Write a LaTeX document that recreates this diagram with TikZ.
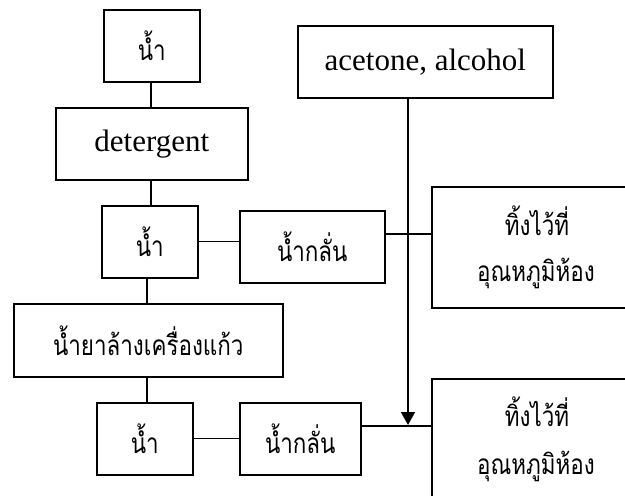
\documentclass[tikz,border=0pt]{standalone}
\usepackage{fontspec}
\setmainfont{Liberation Serif}
\newfontfamily\thaifont[Script=Thai,FakeStretch=0.8]{Loma}
\usetikzlibrary{arrows.meta,calc}
\tikzset{
  box/.style={draw, line width=1.6pt, rectangle, inner sep=0pt, anchor=north west},
  lat/.style={font=\fontsize{31}{37}\selectfont},
  th/.style={font=\thaifont\fontsize{28}{34}\selectfont},
  conn/.style={line width=1.3pt},
  arr/.style={line width=1.8pt, -{Triangle[width=14pt,length=13pt]}}
}
\begin{document}
\begin{tikzpicture}[x=1pt,y=-1pt]
\useasboundingbox (0,0) rectangle (625,496);
\clip (0,0) rectangle (625,496);
% boxes
\node[box, minimum width=96pt, minimum height=72pt, th] (w1) at (103,9) {น้ำ};
\node[box, minimum width=192pt, minimum height=72pt, lat] (det) at (55,107) {detergent};
\node[box, minimum width=96pt, minimum height=72pt, th] (w2) at (101,205) {น้ำ};
\node[box, minimum width=145pt, minimum height=72pt, th] (d1) at (239,210) {น้ำกลั่น};
\node[box, minimum width=255pt, minimum height=72pt, lat] (ac) at (297,25) {acetone, alcohol};
\node[box, minimum width=215pt, minimum height=121pt] (r1) at (431,186) {};
\node[th, anchor=center] (r1a) at (537,221) {ทิ้งไว้ที่};
\node[th, anchor=center] (r1b) at (536,273) {อุณหภูมิห้อง};
\node[box, minimum width=269pt, minimum height=73pt, th] (ws) at (13,303) {น้ำยาล้างเครื่องแก้ว};
\node[box, minimum width=96pt, minimum height=72pt, th] (w3) at (96,402) {น้ำ};
\node[box, minimum width=121pt, minimum height=72pt, th] (d2) at (239,402) {น้ำกลั่น};
\node[box, minimum width=215pt, minimum height=140pt] (r2) at (431,378) {};
\node[th, anchor=center] (r2a) at (537,412) {ทิ้งไว้ที่};
\node[th, anchor=center] (r2b) at (536,466) {อุณหภูมิห้อง};
% connectors
\coordinate (c1) at (151,0);
\draw[conn] (w1.south -| c1) -- (det.north -| c1);
\draw[conn] (det.south -| c1) -- (w2.north -| c1);
\coordinate (c2) at (147,0);
\draw[conn] (w2.south -| c2) -- (ws.north -| c2);
\draw[conn] (ws.south -| c2) -- (w3.north -| c2);
\draw[conn] (w2.east) -- (w2.east -| d1.west);
\coordinate (h1) at (0,234);
\draw[conn] (d1.east |- h1) -- (r1.west |- h1);
\draw[conn] (w3.east) -- (w3.east -| d2.west);
\coordinate (h2) at (0,426);
\draw[conn] (d2.east |- h2) -- (r2.west |- h2);
\coordinate (v) at (408,0);
\coordinate (tip) at (408,425);
\draw[arr] (ac.south -| v) -- (tip);
\end{tikzpicture}
\end{document}
